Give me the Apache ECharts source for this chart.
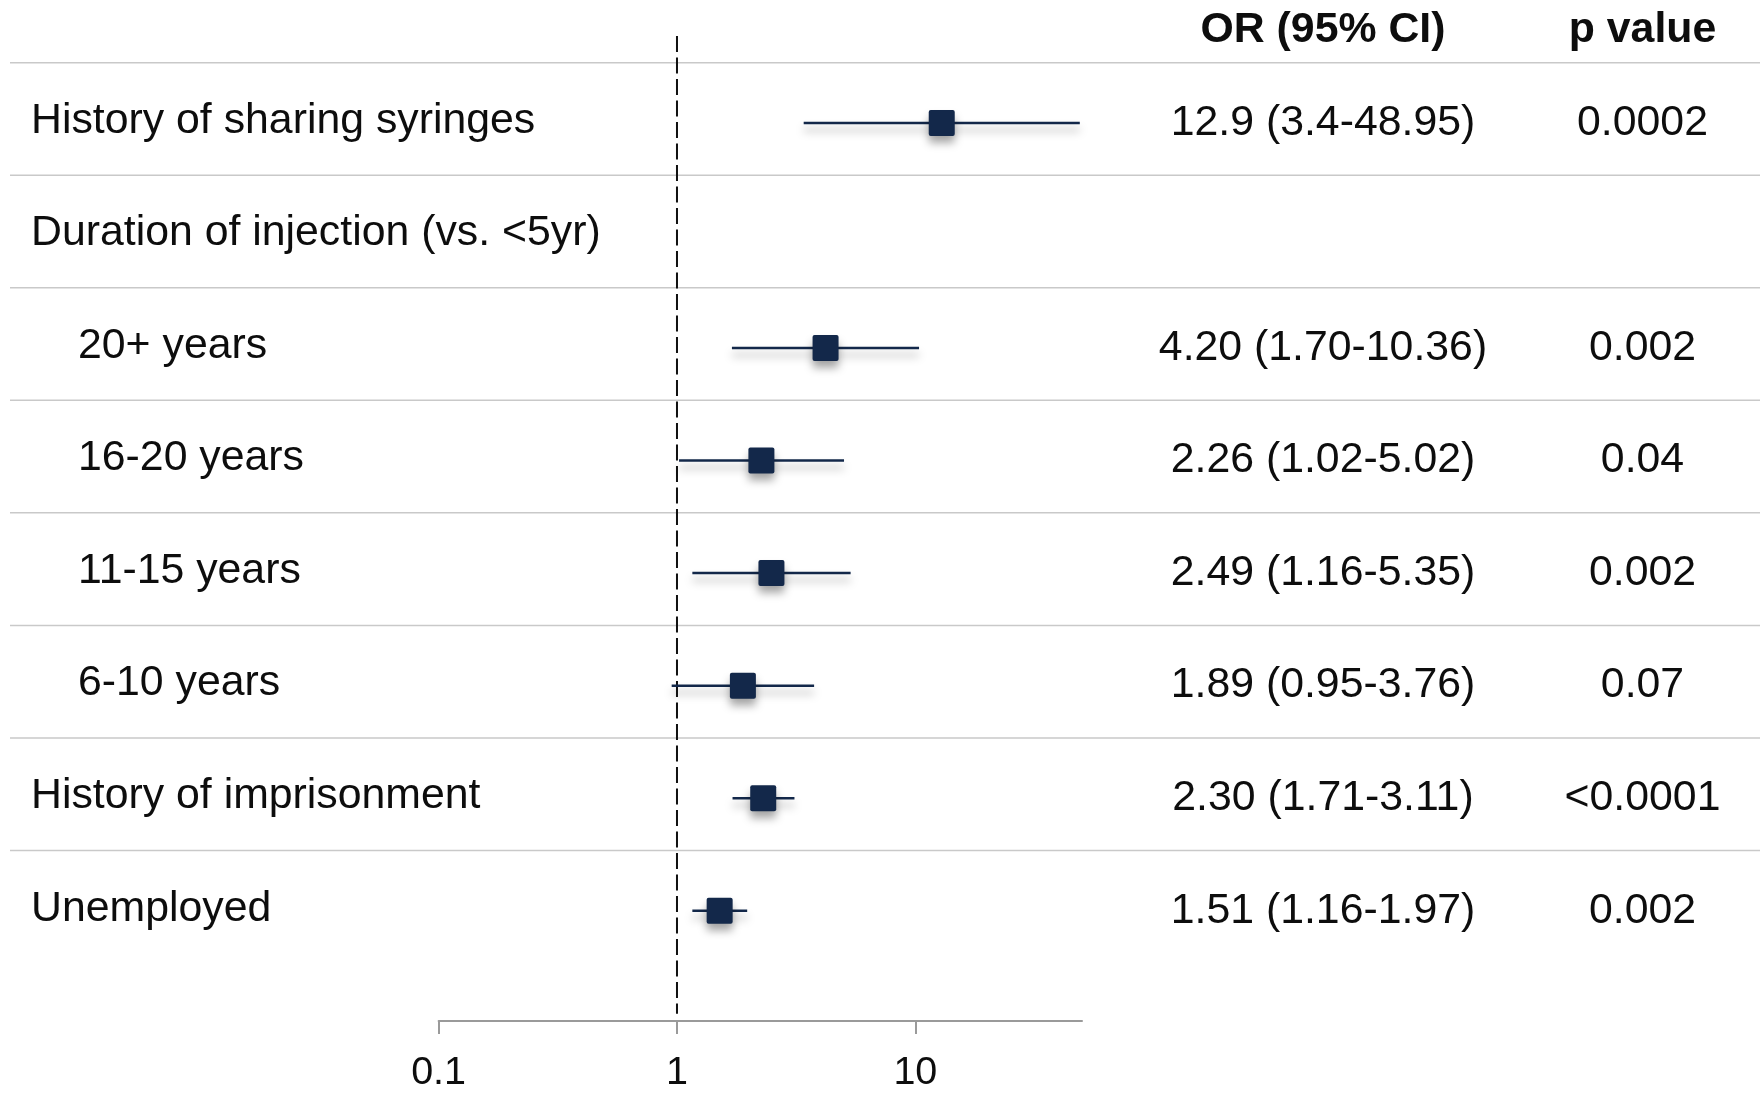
<!DOCTYPE html>
<html>
<head>
<meta charset="utf-8">
<title>Odds ratios – forest plot</title>
<script src="https://cdn.jsdelivr.net/npm/echarts@6/dist/echarts.min.js"></script>
<style>
  html, body { margin: 0; padding: 0; background: #ffffff; }
  #chart { width: 1764px; height: 1093px; }
</style>
</head>
<body>
<div id="chart"></div>
<script>
// ---- Data (rows listed top to bottom) ----
const rowLabels = [
  'History of sharing syringes',
  'Duration of injection (vs. <5yr)',
  '20+ years',
  '16-20 years',
  '11-15 years',
  '6-10 years',
  'History of imprisonment',
  'Unemployed'
];
const indentedRows = [false, false, true, true, true, true, false, false];
const oddsRatios = [12.9, null, 4.20, 2.26, 2.49, 1.89, 2.30, 1.51];
const ciLower    = [3.4,  null, 1.70, 1.02, 1.16, 0.95, 1.71, 1.16];
const ciUpper    = [48.95, null, 10.36, 5.02, 5.35, 3.76, 3.11, 1.97];
const ratioDecimals = [null, null, 2, 2, 2, 2, 2, 2];
const pValues = ['0.0002', '', '0.002', '0.04', '0.002', '0.07', '<0.0001', '0.002'];
const axisTickValues = [0.1, 1, 10];
const axisMin = 0.1;
const axisMax = 50;
const noEffect = 1;

// ---- Derived text and series data ----
function fmt(v, d) { return d == null ? String(v) : v.toFixed(d); }
const ratioTexts = oddsRatios.map((v, i) =>
  v == null ? '' : fmt(v, ratioDecimals[i]) + ' (' + fmt(ciLower[i], ratioDecimals[i]) + '-' + fmt(ciUpper[i], ratioDecimals[i]) + ')'
);
const estimateData = [];
oddsRatios.forEach((v, i) => {
  if (v != null) estimateData.push([v, ciLower[i], ciUpper[i], i]);
});

// ---- Styling ----
const FONT = '"Liberation Sans", Arial, Helvetica, sans-serif';
const TEXT = '#0d0d0d';
const NAVY = '#13284a';
const SHADOW = { shadowColor: 'rgba(0,0,0,0.34)', shadowBlur: 8, shadowOffsetX: 0, shadowOffsetY: 7 };
const LABEL_SIZE = 42.8;
const LABEL_PAD = [0, 0, 4, 0];

// grid geometry: log axis runs from 0.1 to 50, rows are category bands
const GRID = { left: 438.6, width: 643.4, top: 66.7, height: 905.6 };
const OR_COLUMN_X = 1323;
const P_COLUMN_X = 1642.5;
const plotRight = GRID.left + GRID.width;

const chart = echarts.init(document.getElementById('chart'), null, { renderer: 'canvas' });

const option = {
  animation: false,
  backgroundColor: '#ffffff',
  grid: { left: GRID.left, width: GRID.width, top: GRID.top, height: GRID.height },
  xAxis: {
    type: 'log',
    logBase: 10,
    min: axisMin,
    max: axisMax,
    offset: 54,
    splitLine: { show: false },
    axisLine: { show: true, lineStyle: { color: '#9a9a9a', width: 2 } },
    axisTick: {
      show: true, length: 13, inside: false,
      customValues: axisTickValues,
      lineStyle: { color: '#9a9a9a', width: 2 }
    },
    axisLabel: {
      customValues: axisTickValues,
      margin: 32,
      fontSize: 39.5,
      fontFamily: FONT,
      color: TEXT,
      formatter: v => String(+Number(v).toPrecision(6))
    }
  },
  yAxis: [
    {
      // row names on the left
      type: 'category',
      inverse: true,
      data: rowLabels,
      axisLine: { show: false },
      axisTick: { show: false },
      splitLine: { show: false },
      axisLabel: {
        interval: 0,
        align: 'left',
        margin: GRID.left - 31,
        fontSize: LABEL_SIZE,
        fontFamily: FONT,
        color: TEXT,
        formatter: (v, i) => (indentedRows[i] ? '{sub|' : '{main|') + v + '}',
        rich: {
          main: { fontSize: LABEL_SIZE, fontFamily: FONT, color: TEXT, padding: LABEL_PAD },
          sub: { fontSize: LABEL_SIZE, fontFamily: FONT, color: TEXT, padding: [0, 0, 4, 47] }
        }
      }
    },
    {
      // OR (95% CI) column
      type: 'category',
      inverse: true,
      position: 'right',
      data: rowLabels,
      axisLine: { show: false },
      axisTick: { show: false },
      splitLine: { show: false },
      axisLabel: {
        interval: 0,
        align: 'center',
        margin: OR_COLUMN_X - plotRight,
        fontSize: LABEL_SIZE,
        fontFamily: FONT,
        color: TEXT,
        padding: LABEL_PAD,
        formatter: (v, i) => ratioTexts[i]
      }
    },
    {
      // p value column
      type: 'category',
      inverse: true,
      position: 'right',
      data: rowLabels,
      axisLine: { show: false },
      axisTick: { show: false },
      splitLine: { show: false },
      axisLabel: {
        interval: 0,
        align: 'center',
        margin: P_COLUMN_X - plotRight,
        fontSize: LABEL_SIZE,
        fontFamily: FONT,
        color: TEXT,
        padding: LABEL_PAD,
        formatter: (v, i) => pValues[i]
      }
    }
  ],
  graphic: [
    {
      type: 'text', x: OR_COLUMN_X, y: 30.5, silent: true,
      style: { text: 'OR (95% CI)', fontSize: LABEL_SIZE, fontWeight: 'bold', fontFamily: FONT, fill: TEXT, align: 'center', verticalAlign: 'middle' }
    },
    {
      type: 'text', x: P_COLUMN_X, y: 30.5, silent: true,
      style: { text: 'p value', fontSize: LABEL_SIZE, fontWeight: 'bold', fontFamily: FONT, fill: TEXT, align: 'center', verticalAlign: 'middle' }
    }
  ],
  series: [
    {
      // horizontal rule above each row, spanning the full table width
      type: 'custom',
      name: 'row rules',
      silent: true,
      z: 1,
      data: rowLabels.map((_, i) => [noEffect, i]),
      encode: { x: 0, y: 1 },
      renderItem: (params, api) => {
        const row = api.value(1);
        const c = api.coord([noEffect, row]);
        const band = api.size([0, 1], [noEffect, row])[1];
        const y = c[1] - band / 2 - 4;
        return {
          type: 'line',
          shape: { x1: 10, y1: y, x2: api.getWidth() - 4, y2: y },
          style: { stroke: '#c9c9c9', lineWidth: 1.5 }
        };
      }
    },
    {
      // dashed reference line at OR = 1
      type: 'custom',
      name: 'no effect',
      silent: true,
      z: 2,
      data: [[noEffect, 0]],
      encode: { x: 0, y: 1 },
      renderItem: (params, api) => {
        const x = api.coord([api.value(0), 0])[0];
        const cs = params.coordSys;
        return {
          type: 'line',
          shape: { x1: x, y1: cs.y - 30.7, x2: x, y2: cs.y + cs.height + 46.7 },
          style: { stroke: '#111111', lineWidth: 2, lineDash: [16, 5.5] }
        };
      }
    },
    {
      // confidence interval whiskers with square point estimates
      type: 'custom',
      name: 'OR (95% CI)',
      silent: true,
      z: 3,
      data: estimateData,
      encode: { x: [0, 1, 2], y: 3 },
      renderItem: (params, api) => {
        const row = api.value(3);
        const mid = api.coord([api.value(0), row]);
        const lo = api.coord([api.value(1), row]);
        const hi = api.coord([api.value(2), row]);
        const s = 26;
        return {
          type: 'group',
          children: [
            {
              type: 'line',
              shape: { x1: lo[0], y1: mid[1], x2: hi[0], y2: mid[1] },
              style: Object.assign({ stroke: NAVY, lineWidth: 2.5 }, SHADOW)
            },
            {
              type: 'rect',
              shape: { x: mid[0] - s / 2, y: mid[1] - s / 2, width: s, height: s, r: 2 },
              style: Object.assign({ fill: NAVY }, SHADOW)
            }
          ]
        };
      }
    }
  ]
};

chart.setOption(option);
</script>
</body>
</html>
